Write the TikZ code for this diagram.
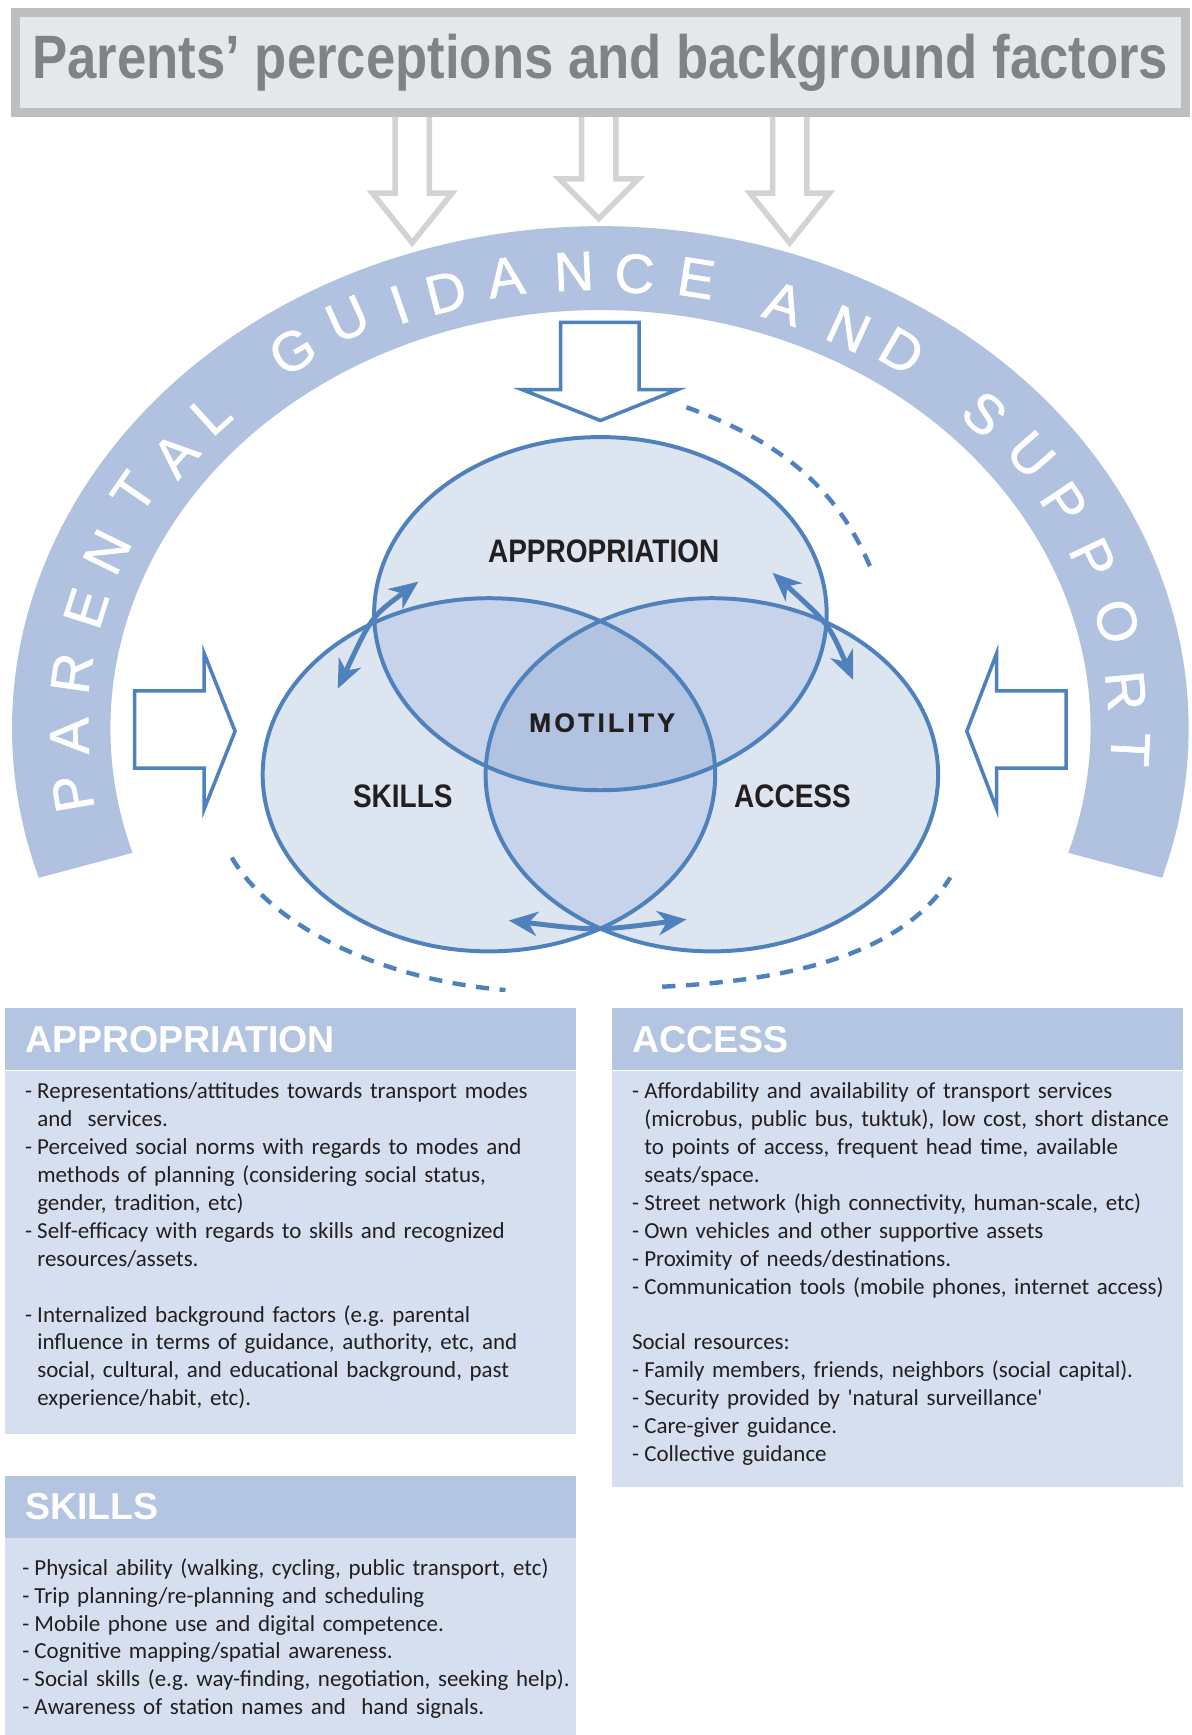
\documentclass[tikz,border=0pt]{standalone}
\usepackage{fontspec}
\setmainfont{Carlito}
\newfontfamily\headfont{Liberation Sans}
\newfontfamily\bandfont{Liberation Sans}[FakeBold=1.2]
\newfontfamily\condfont{Liberation Sans}[FakeStretch=0.86]
\newfontfamily\motfont{Liberation Sans}[LetterSpace=12,FakeBold=1]
\usetikzlibrary{arrows.meta,positioning}

\definecolor{bandblue}{HTML}{B0C2E0}
\definecolor{venline}{HTML}{4F81BD}
\definecolor{venlight}{HTML}{DDE5F1}
\definecolor{venmid}{HTML}{C6D3EA}
\definecolor{vendark}{HTML}{B2C3E1}
\definecolor{headblue}{HTML}{B4C5E2}
\definecolor{bodyblue}{HTML}{D5DFF0}
\definecolor{boxgray}{HTML}{E6E7E8}
\definecolor{bordergray}{HTML}{BCBEC0}
\definecolor{titlegray}{HTML}{808285}
\definecolor{arrowgray}{HTML}{D1D3D4}
\definecolor{inkblack}{HTML}{231F20}

% list lines in the boxes
\newcommand{\boxfont}{\fontsize{20.8}{25.3}\selectfont\frenchspacing
  \spaceskip=0.19em plus 0.1em minus 0.05em\relax}
\newcommand{\dashitem}{\par\noindent\hangindent=11.1pt\hangafter=1\strut-\hspace{4.7pt}}
\newcommand{\plainline}{\par\noindent\strut}
\newcommand{\gapline}{\par\vspace{25.3pt}}

\tikzset{
  topbox/.style={draw=bordergray, fill=boxgray, line width=8pt, minimum width=1060pt,
    minimum height=90.5pt, inner sep=0pt, text=titlegray,
    font=\condfont\bfseries\fontsize{55.5}{55.5}\selectfont},
  bandletter/.style={text=white, inner sep=0pt, font=\bandfont\fontsize{50}{50}\selectfont},
  hollowgray/.style={draw=arrowgray, line width=5pt, line join=miter},
  hollowblue/.style={draw=venline, fill=white, line width=3.2pt, line join=miter},
  venedge/.style={draw=venline, line width=3.6pt},
  twoway/.style={draw=venline, line width=4.5pt, <->, >={Stealth[length=26pt,width=22pt,inset=8pt]}},
  dashloop/.style={draw=venline, line width=4pt, dash pattern=on 12pt off 9.5pt},
  venlabel/.style={text=inkblack, inner sep=0pt, anchor=base,
    font=\condfont\bfseries\fontsize{29.5}{30}\selectfont},
  motlabel/.style={text=inkblack, inner sep=0pt, anchor=base,
    font=\motfont\bfseries\fontsize{24}{24}\selectfont},
  headbar/.style={fill=headblue, minimum width=517pt, minimum height=56pt, inner xsep=18pt,
    inner ysep=0pt, text width=481pt, align=left, text=white, anchor=north west,
    font=\headfont\bfseries\fontsize{34}{34}\selectfont},
  bodybox/.style={fill=bodyblue, minimum width=517pt, inner sep=0pt, anchor=north west},
  bodytext/.style={text=inkblack, inner sep=0pt, text width=560pt, align=left,
    anchor=north west, font=\boxfont}
}

\begin{document}
\begin{tikzpicture}[x=1pt,y=1pt]
\useasboundingbox (0,0) rectangle (1080,-1572);

% guidance band
\coordinate (cBand) at (544,-660);
\fill[bandblue] ([shift={(197.3:533 and 455)}]cBand)
  arc[start angle=197.3, end angle=-17.3, x radius=533, y radius=455]
  -- ([shift={(-17.3:444 and 379)}]cBand)
  arc[start angle=-17.3, end angle=197.3, x radius=444, y radius=379] -- cycle;
\foreach \ch/\px/\py [count=\k] in {P/66/719, A/63/667, R/65/610, E/78/551, N/97/500,
    T/121/446, A/159/412, L/191/375, G/265/318, U/315/289, I/362/276, D/404/265,
    A/458/251, N/520/246, C/575/248, E/631/252, A/710/275, N/769/298, D/817/318,
    S/892/375, U/934/412, P/964/456, P/990/506, O/1012/563, R/1020/626, T/1024/679}
{
  \pgfmathsetmacro\tilt{atan2(660-\py,0.73*(\px-544))-90}
  \node[bandletter, rotate=\tilt] (band\k) at (\px,-\py) {\ch};
}

% grey arrows
\foreach \gx/\gb/\gt in {373.5/175/220, 542.5/162/198, 715.5/175/220}
  \draw[hollowgray] (\gx-15.5,-100) -- (\gx-15.5,-\gb) -- (\gx-36,-\gb) -- (\gx,-\gt)
    -- (\gx+36,-\gb) -- (\gx+15.5,-\gb) -- (\gx+15.5,-100);

\node[topbox] (ptitle) at (544,-56.75) {Parents’ perceptions and background factors};

% blue arrows into the circles
\draw[hollowblue] (508,-292) -- (579,-292) -- (579,-353) -- (614,-353) -- (544,-381)
  -- (473,-353) -- (508,-353) -- cycle;
\draw[hollowblue] (122,-626) -- (185,-626) -- (185,-592) -- (213,-662.5) -- (185,-733)
  -- (185,-696) -- (122,-696) -- cycle;
\draw[hollowblue] (966,-626) -- (903,-626) -- (903,-592) -- (876,-662.5) -- (903,-733)
  -- (903,-696) -- (966,-696) -- cycle;

% dashed loops
\draw[dashloop] (622,-369) .. controls (709.5,-400.5) and (759.6,-444.3) .. (789,-515);
\draw[dashloop] (210,-777) .. controls (247,-840) and (346,-888) .. (458,-897);
\draw[dashloop] (600,-894) .. controls (723,-888) and (820,-862) .. (861,-795);

% venn
\coordinate (cAppr) at (544,-556);
\coordinate (cSkill) at (443,-702);
\coordinate (cAcc) at (645,-702);
\fill[venlight] (cAppr) ellipse[x radius=205, y radius=160];
\fill[venlight] (cSkill) ellipse[x radius=205, y radius=160];
\fill[venlight] (cAcc) ellipse[x radius=205, y radius=160];
\begin{scope}
  \clip (cAppr) ellipse[x radius=205, y radius=160];
  \fill[venmid] (cSkill) ellipse[x radius=205, y radius=160];
  \fill[venmid] (cAcc) ellipse[x radius=205, y radius=160];
\end{scope}
\begin{scope}
  \clip (cSkill) ellipse[x radius=205, y radius=160];
  \fill[venmid] (cAcc) ellipse[x radius=205, y radius=160];
\end{scope}
\begin{scope}
  \clip (cAppr) ellipse[x radius=205, y radius=160];
  \clip (cSkill) ellipse[x radius=205, y radius=160];
  \fill[vendark] (cAcc) ellipse[x radius=205, y radius=160];
\end{scope}
\draw[venedge] (cAppr) ellipse[x radius=205, y radius=160];
\draw[venedge] (cSkill) ellipse[x radius=205, y radius=160];
\draw[venedge] (cAcc) ellipse[x radius=205, y radius=160];

% two-way arrows
\coordinate (skUp) at (306,-624);
\coordinate (apLeft) at (379,-527);
\coordinate (apRight) at (700,-519);
\coordinate (acUp) at (773,-616);
\coordinate (skLow) at (461,-834);
\coordinate (acLow) at (622,-833);
\draw[twoway] (skUp) .. controls (336.5,-558.8) .. (apLeft);
\draw[twoway] (apRight) .. controls (751,-565.5) .. (acUp);
\draw[twoway] (skLow) .. controls (541,-843.5) .. (acLow);

\node[venlabel] (apprLabel) at (547,-510) {APPROPRIATION};
\node[motlabel] (motLabel) at (545.5,-663) {MOTILITY};
\node[venlabel] (skillLabel) at (365,-732) {SKILLS};
\node[venlabel] (accLabel) at (718,-732) {ACCESS};

% text boxes
\node[headbar] (apprHead) at (4.5,-913.5) {APPROPRIATION};
\node[bodybox, minimum height=329pt] (apprBody) at (apprHead.south west) {};
\node[bodytext] (apprText) at ([xshift=18pt,yshift=0pt]apprBody.north west) {%
  \dashitem Representations/attitudes towards transport modes\newline and~ services.
  \dashitem Perceived social norms with regards to modes and\newline methods of planning (considering social status,\newline gender, tradition, etc)
  \dashitem Self-efficacy with regards to skills and recognized\newline resources/assets.
  \gapline
  \dashitem Internalized background factors (e.g. parental\newline influence in terms of guidance, authority, etc, and\newline social, cultural, and educational background, past\newline experience/habit, etc).\par};

\node[headbar] (accHead) at (554.5,-913.5) {ACCESS};
\node[bodybox, minimum height=377.5pt] (accBody) at (accHead.south west) {};
\node[bodytext] (accText) at ([xshift=18pt,yshift=0pt]accBody.north west) {%
  \dashitem Affordability and availability of transport services\newline (microbus, public bus, tuktuk), low cost, short distance\newline to points of access, frequent head time, available\newline seats/space.
  \dashitem Street network (high connectivity, human-scale, etc)
  \dashitem Own vehicles and other supportive assets
  \dashitem Proximity of needs/destinations.
  \dashitem Communication tools (mobile phones, internet access)
  \gapline
  \plainline Social resources:
  \dashitem Family members, friends, neighbors (social capital).
  \dashitem Security provided by \textquotesingle natural surveillance\textquotesingle
  \dashitem Care-giver guidance.
  \dashitem Collective guidance\par};

\node[headbar] (skillHead) at (4.5,-1337) {SKILLS};
\node[bodybox, minimum height=179pt] (skillBody) at (skillHead.south west) {};
\node[bodytext] (skillText) at ([xshift=15.5pt,yshift=-8.3pt]skillBody.north west) {%
  \dashitem Physical ability (walking, cycling, public transport, etc)
  \dashitem Trip planning/re-planning and scheduling
  \dashitem Mobile phone use and digital competence.
  \dashitem Cognitive mapping/spatial awareness.
  \dashitem Social skills (e.g. way-finding, negotiation, seeking help).
  \dashitem Awareness of station names and~ hand signals.\par};
\end{tikzpicture}
\end{document}
